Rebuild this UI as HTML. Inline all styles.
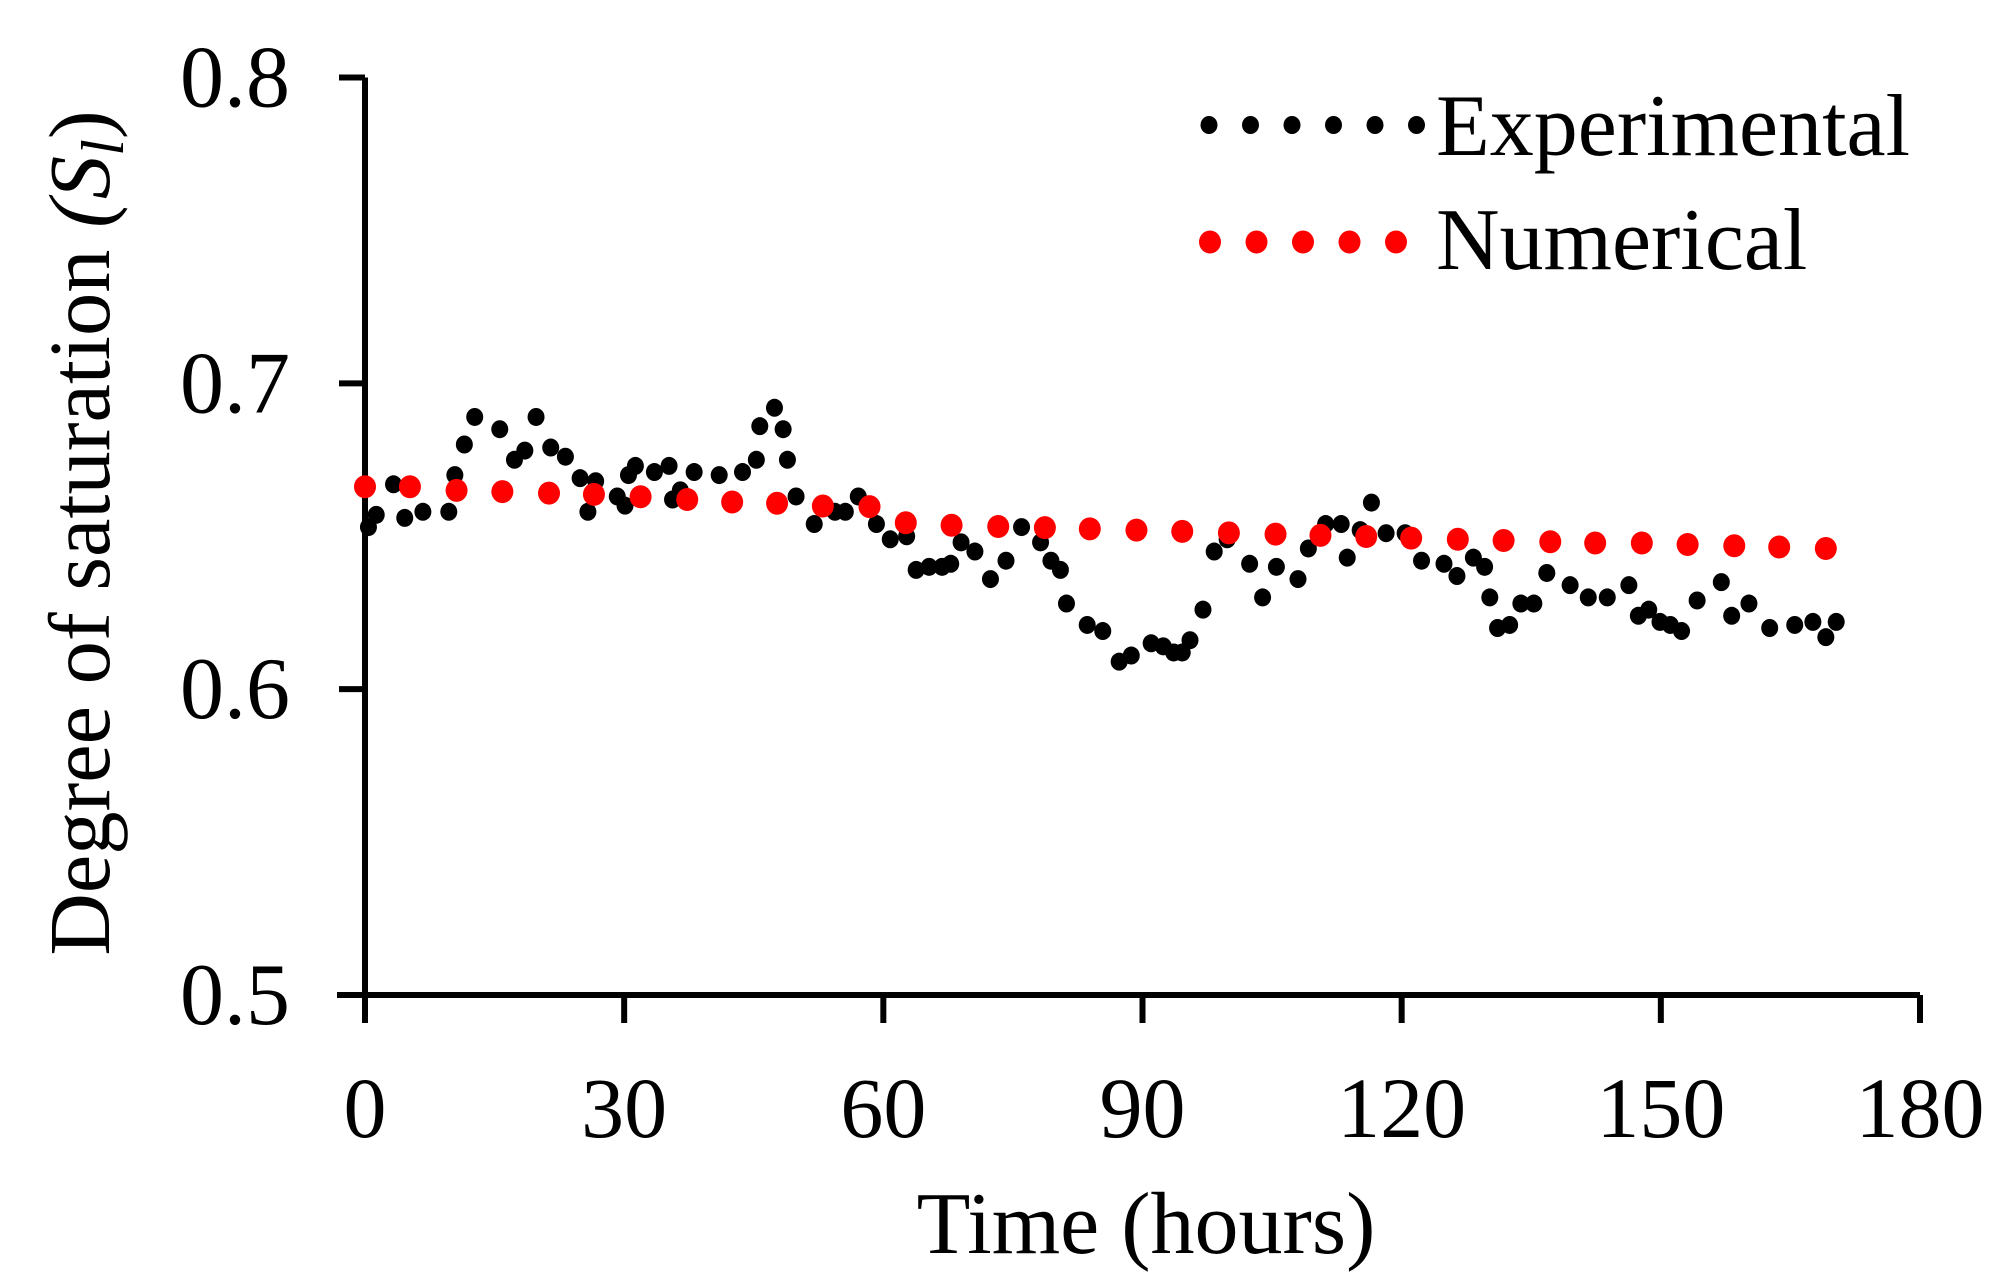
<!DOCTYPE html>
<html><head><meta charset="utf-8"><style>
html,body{margin:0;padding:0;background:#fff;}
svg{display:block;font-family:"Liberation Serif",serif;}
</style></head><body>
<svg id="chart" width="2016" height="1288" viewBox="0 0 2016 1288" xmlns="http://www.w3.org/2000/svg">
<g id="axes"></g><g id="marks"></g><g id="legend"></g>
</svg>
<script>
const expTime=[0.4,1.3,3.3,4.6,6.7,9.7,10.4,11.5,12.7,15.6,17.3,18.5,19.8,21.5,23.2,24.9,25.8,26.7,29.2,30.1,30.5,31.3,33.5,35.2,35.6,36.5,38.1,41,43.7,45.3,45.7,47.4,48.4,48.9,49.9,52,54.4,55.6,57.1,59.2,60.8,62.7,63.8,65.3,66.8,67.8,69,70.6,72.4,74.2,76,78.2,79.4,80.5,81.2,83.6,85.4,87.3,88.7,91,92.4,93.6,94.6,95.5,97,98.3,99.8,102.4,103.9,105.5,108,109.2,111.2,113,113.7,115.2,116.5,118.2,120.4,122.3,124.9,126.4,128.3,129.6,130.2,131.1,132.5,133.8,135.3,136.8,139.5,141.6,143.8,146.3,147.4,148.6,149.9,151.1,152.4,154.2,157,158.2,160.2,162.6,165.5,167.6,169.1,170.3];
const expSat=[0.653,0.657,0.667,0.656,0.658,0.658,0.670,0.680,0.689,0.685,0.675,0.678,0.689,0.679,0.676,0.669,0.658,0.668,0.663,0.660,0.670,0.673,0.671,0.673,0.662,0.665,0.671,0.670,0.671,0.675,0.686,0.692,0.685,0.675,0.663,0.654,0.658,0.658,0.663,0.654,0.649,0.650,0.639,0.640,0.640,0.641,0.648,0.645,0.636,0.642,0.653,0.648,0.642,0.639,0.628,0.621,0.619,0.609,0.611,0.615,0.614,0.612,0.612,0.616,0.626,0.645,0.649,0.641,0.630,0.640,0.636,0.646,0.654,0.654,0.643,0.652,0.661,0.651,0.651,0.642,0.641,0.637,0.643,0.640,0.630,0.620,0.621,0.628,0.628,0.638,0.634,0.630,0.630,0.634,0.624,0.626,0.622,0.621,0.619,0.629,0.635,0.624,0.628,0.620,0.621,0.622,0.617,0.622];
const numTime=[0,5.2,10.6,15.9,21.3,26.5,31.9,37.3,42.5,47.7,53,58.4,62.6,67.9,73.3,78.7,83.9,89.3,94.6,100,105.4,110.6,115.9,121.1,126.5,131.8,137.2,142.4,147.8,153.1,158.5,163.7,169.1];
const numSat=[0.6662,0.6662,0.6650,0.6646,0.6641,0.6637,0.6629,0.6620,0.6612,0.6608,0.6599,0.6597,0.6544,0.6536,0.6532,0.6528,0.6524,0.6520,0.6516,0.6511,0.6507,0.6503,0.6499,0.6494,0.6490,0.6486,0.6482,0.6478,0.6478,0.6473,0.6469,0.6465,0.6460];
const xTicks=[0,30,60,90,120,150,180];
const yTicks=[0.5,0.6,0.7,0.8];
const yTickLabels=["0.5","0.6","0.7","0.8"];

const NS="http://www.w3.org/2000/svg";
const X0=365,X1=1920,Y0=995,Y1=77.5;
const xs=t=>X0+(t-0)/(180-0)*(X1-X0);
const ys=v=>Y0-(v-0.5)/(0.8-0.5)*(Y0-Y1);
function mk(tag,attrs,parent){const e=document.createElementNS(NS,tag);for(const k in attrs)e.setAttribute(k,attrs[k]);parent.appendChild(e);return e;}
const axes=document.getElementById('axes'),marks=document.getElementById('marks'),legend=document.getElementById('legend');

let ya=mk('line',{x1:X0,y1:Y1,x2:X0,y2:Y0+28,stroke:'#000','stroke-width':6},axes);


let xa=mk('line',{x1:X0-28,y1:Y0,x2:X1,y2:Y0,stroke:'#000','stroke-width':6},axes);



yTicks.forEach((v,i)=>{
  let t=mk('line',{x1:X0-26,y1:ys(v),x2:X0,y2:ys(v),stroke:'#000','stroke-width':6},axes);
  
  
  let l=mk('text',{x:290,y:ys(v)+29,'font-size':88,'text-anchor':'end',fill:'#000'},axes);
  l.textContent=yTickLabels[i];
  
  
});
xTicks.forEach(v=>{
  let t=mk('line',{x1:xs(v),y1:Y0,x2:xs(v),y2:Y0+28,stroke:'#000','stroke-width':6},axes);
  
  
  let l=mk('text',{x:xs(v),y:1137,'font-size':86,'text-anchor':'middle',fill:'#000'},axes);
  l.textContent=String(v);
  
  
});
let xt=mk('text',{x:1146,y:1253,'font-size':88,'text-anchor':'middle',fill:'#000'},axes);
xt.textContent='Time (hours)';


let yt=mk('text',{x:0,y:0,'font-size':86.5,'text-anchor':'middle',fill:'#000',transform:'translate(109,533) rotate(-90)'},axes);
yt.innerHTML='Degree of saturation <tspan font-style="italic">(S</tspan><tspan font-style="italic" font-size="60" dy="14">l</tspan><tspan dy="-14">)</tspan>';



expTime.forEach((t,i)=>{
  let c=mk('ellipse',{cx:xs(t),cy:ys(expSat[i]),rx:8.5,ry:9,fill:'#000'},marks);
  
  
});
numTime.forEach((t,i)=>{
  let c=mk('ellipse',{cx:xs(t),cy:ys(numSat[i]),rx:11,ry:11.5,fill:'#ff0000'},marks);
  
  
});

for(let i=0;i<6;i++){
  let c=mk('ellipse',{cx:1209+i*41.5,cy:125,rx:8.5,ry:9,fill:'#000'},legend);
  
  
}
for(let i=0;i<5;i++){
  let c=mk('ellipse',{cx:1210+i*46.5,cy:242,rx:11,ry:11.5,fill:'#ff0000'},legend);
  
  
}
let l1=mk('text',{x:1436,y:155,'font-size':88,fill:'#000'},legend);
l1.textContent='Experimental';


let l2=mk('text',{x:1436,y:269,'font-size':88,fill:'#000'},legend);
l2.textContent='Numerical';


</script>
</body></html>
